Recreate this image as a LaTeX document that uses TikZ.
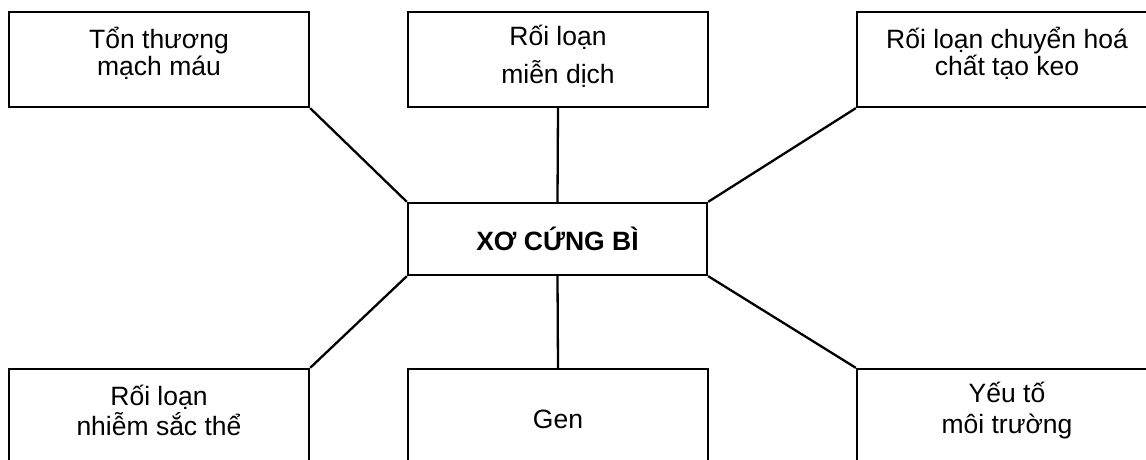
\documentclass[tikz,border=0pt]{standalone}
\usepackage{fontspec}
\setmainfont{Liberation Sans}
\usepackage{tikz}
\usetikzlibrary{calc,positioning}

\begin{document}
\begin{tikzpicture}[baseline=0mm,
	causebox/.style={draw,line width=2.3pt,minimum width=300pt,minimum height=95pt,inner sep=0pt},
	causetext/.style={align=center,inner sep=0pt},
	link/.style={line width=2.3pt}]
				 %\draw[color=gray,step=10pt, help lines,opacity=0.3] (0pt,-460pt) grid (1146pt,0pt); %help grids
				 \useasboundingbox (0pt,0pt) rectangle (1146pt,-460pt);
				 \clip (0pt,0pt) rectangle (1146pt,-460pt);
				 \node[draw,line width=2.3pt,minimum width=299pt,minimum height=72pt,font=\fontsize{26.5}{28}\selectfont\bfseries] (xcb) at (557.5pt,-239pt) {XƠ CỨNG BÌ};
				 % boxes
				 \node[causebox] (mach) at (159pt,-59.5pt) {};
				 \node[causebox] (mien) at (558pt,-59.5pt) {};
				 \node[causebox] (keo) at (1007pt,-59.5pt) {};
				 \node[causebox] (nst) at (159pt,-416.5pt) {};
				 \node[causebox] (gen) at (558pt,-416.5pt) {};
				 \node[causebox] (moi) at (1007pt,-416.5pt) {};
				 % texts
				 \node[causetext,font=\fontsize{26.5}{27.5}\selectfont] (machtxt) at ([yshift=6pt]mach.center) {Tổn thương\\ mạch máu};
				 \node[causetext,font=\fontsize{26.5}{37.5}\selectfont] (mientxt) at ([yshift=3pt]mien.center) {Rối loạn\\ miễn dịch};
				 \node[causetext,font=\fontsize{26.5}{27.5}\selectfont] (keotxt) at ([yshift=6pt]keo.center) {Rối loạn chuyển hoá\\ chất tạo keo};
				 \node[causetext,font=\fontsize{26.5}{30.5}\selectfont] (nsttxt) at ([yshift=6pt]nst.center) {Rối loạn\\ nhiễm sắc thể};
				 \node[causetext,font=\fontsize{26.5}{30.5}\selectfont] (gentxt) at ([yshift=-3pt]gen.center) {Gen};
				 \node[causetext,font=\fontsize{26.5}{30.5}\selectfont] (moitxt) at ([yshift=6pt]moi.center) {Yếu tố\\ môi trường};
				 % links
				 \draw[link] (mach.south east)--(xcb.north west);
				 \draw[link] (mien.south)--(xcb.north);
				 \draw[link] (keo.south west)--(xcb.north east);
				 \draw[link] (nst.north east)--(xcb.south west);
				 \draw[link] (gen.north)--(xcb.south);
				 \draw[link] (moi.north west)--(xcb.south east);
\end{tikzpicture}
\end{document}
